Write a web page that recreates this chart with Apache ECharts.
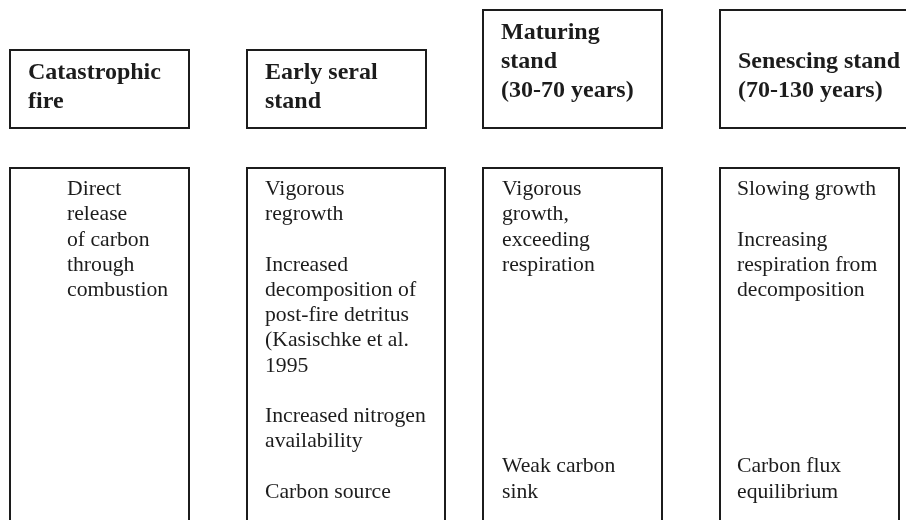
<!DOCTYPE html>
<html>
<head>
<meta charset="utf-8">
<script src="https://cdn.jsdelivr.net/npm/echarts@6/dist/echarts.min.js"></script>
<style>
html, body { margin: 0; background: #fff; }
#chart { width: 906px; height: 520px; }
</style>
</head>
<body>
<div id="chart"></div>
<script>
// stages of the stand, one column each
var stages = ['Catastrophic fire', 'Early seral stand', 'Maturing stand', 'Senescing stand'];

var headerText = [
	['Catastrophic', 'fire'],
	['Early seral', 'stand'],
	['Maturing', 'stand', '(30-70 years)'],
	['', 'Senescing stand', '(70-130 years)']
];

var detailText = [
	['Direct', 'release', 'of carbon', 'through', 'combustion'],
	['Vigorous', 'regrowth', '', 'Increased', 'decomposition of', 'post-fire detritus',
		'(Kasischke et al.', '1995', '', 'Increased nitrogen', 'availability', '', 'Carbon source'],
	['Vigorous', 'growth,', 'exceeding', 'respiration', '', '', '', '', '', '', '',
		'Weak carbon', 'sink'],
	['Slowing growth', '', 'Increasing', 'respiration from', 'decomposition', '', '', '', '', '', '',
		'Carbon flux', 'equilibrium']
];

// layout (pixels) - kept apart from the data
var headerTop = [50, 50, 10, 10];
var headerWidth = [179, 179, 179, 200];
var detailWidth = [179, 198, 179, 179];
var detailIndent = [57, 18, 19, 17];
var ink = '#1c1c1c';
var serif = '"Liberation Serif", "Times New Roman", serif';

function renderItem(params, api) {
	var i = params.dataIndex;
	var cx = api.coord([api.value(0), 0])[0];
	var left = Math.round(cx - 89.5);
	var top = headerTop[i];
	return {
		type: 'group',
		children: [
			{
				type: 'rect',
				shape: { x: left, y: top, width: headerWidth[i], height: 128 - top },
				style: { fill: '#fff', stroke: ink, lineWidth: 2 }
			},
			{
				type: 'text',
				x: left + 18,
				y: top + 8,
				style: {
					text: headerText[i].join('\n'),
					fontFamily: serif,
					fontWeight: 'bold',
					fontSize: 24,
					lineHeight: 29,
					fill: ink,
					verticalAlign: 'top'
				}
			},
			{
				type: 'rect',
				shape: { x: left, y: 168, width: detailWidth[i], height: 370 },
				style: { fill: '#fff', stroke: ink, lineWidth: 2 }
			},
			{
				type: 'text',
				x: left + detailIndent[i],
				y: 177,
				style: {
					text: detailText[i].join('\n'),
					fontFamily: serif,
					fontSize: 21.7,
					lineHeight: 25.2,
					fill: ink,
					verticalAlign: 'top'
				}
			}
		]
	};
}

var myChart = echarts.init(document.getElementById('chart'));
myChart.setOption({
	animation: false,
	backgroundColor: '#fff',
	grid: { left: 99.5, right: 96.5, top: 0, bottom: 0 },
	xAxis: {
		type: 'category',
		data: stages,
		boundaryGap: false,
		show: false
	},
	yAxis: {
		type: 'value',
		min: 0,
		max: 1,
		show: false
	},
	series: [{
		type: 'custom',
		renderItem: renderItem,
		data: stages.map(function (s, i) { return [i]; })
	}]
});
</script>
</body>
</html>
